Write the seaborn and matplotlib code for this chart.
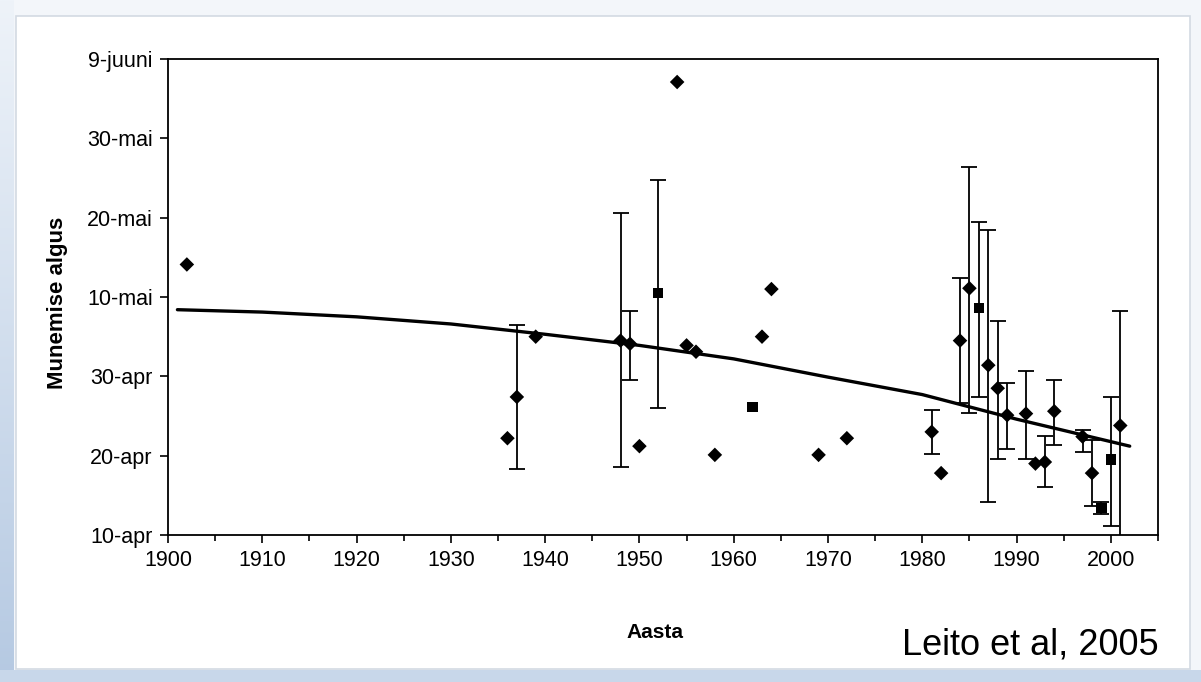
import numpy as np
import pandas as pd
import matplotlib
matplotlib.use('Agg')
import matplotlib.pyplot as plt
from matplotlib.patches import Rectangle
from matplotlib.ticker import MultipleLocator
import seaborn as sns

# Munemise algus (days after 10 April) per year
years = [1902, 1936, 1937, 1939, 1948, 1949, 1950, 1952, 1954, 1955, 1956, 1958,
         1962, 1963, 1964, 1969, 1972, 1981, 1982, 1984, 1985, 1986, 1987, 1988,
         1989, 1991, 1992, 1993, 1994, 1997, 1998, 1999, 2000, 2001]
days = [34.1, 12.2, 17.4, 25.0, 24.5, 24.1, 11.2, 30.5, 57.1, 23.9, 23.1, 10.1,
        16.1, 25.0, 31.0, 10.1, 12.2, 13.0, 7.8, 24.5, 31.1, 28.6, 21.4, 18.5,
        15.1, 15.3, 9.0, 9.2, 15.6, 12.4, 7.8, 3.4, 9.5, 13.8]
shapes = ['romb', 'romb', 'romb', 'romb', 'romb', 'romb', 'romb', 'ruut', 'romb', 'romb', 'romb', 'romb',
          'ruut', 'romb', 'romb', 'romb', 'romb', 'romb', 'romb', 'romb', 'romb', 'ruut', 'romb', 'romb',
          'romb', 'romb', 'romb', 'romb', 'romb', 'romb', 'romb', 'ruut', 'ruut', 'romb']
nan = np.nan
err_low = [nan, nan, 8.3, nan, 8.6, 19.6, nan, 16.0, nan, nan, nan, nan,
           nan, nan, nan, nan, nan, 10.2, nan, 16.6, 15.4, 17.4, 4.1, 9.6,
           10.8, 9.6, nan, 6.1, 11.3, 10.5, 3.6, 2.7, 1.1, -1.0]
err_high = [nan, nan, 26.5, nan, 40.6, 28.2, nan, 44.8, nan, nan, nan, nan,
            nan, nan, nan, nan, nan, 15.7, nan, 32.4, 46.4, 39.5, 38.4, 27.0,
            19.1, 20.7, nan, 12.5, 19.6, 13.2, 12.0, 4.2, 17.4, 28.2]

# trend line
trend_years = [1901, 1910, 1920, 1930, 1940, 1950, 1960, 1970, 1980, 1990, 2002]
trend_days = [28.4, 28.1, 27.5, 26.6, 25.3, 23.9, 22.2, 19.9, 17.7, 14.6, 11.2]

ytick_days = [0, 10, 20, 30, 40, 50, 60]
ytick_labels = ['10-apr', '20-apr', '30-apr', '10-mai', '20-mai', '30-mai', '9-juuni']
xtick_years = list(range(1900, 2001, 10))

df = pd.DataFrame({'aasta': years, 'paev': days, 'kuju': shapes,
                   'alumine': err_low, 'ulemine': err_high})

sns.set_style('ticks')
plt.rcParams['font.family'] = ['Liberation Sans', 'DejaVu Sans']
plt.rcParams['text.color'] = 'black'

W, H = 1201, 682
fig = plt.figure(figsize=(W / 100, H / 100), dpi=100)
fig.patch.set_facecolor('#f3f6fa')

# slide-like background
grad_ax = fig.add_axes([0, 0, 14 / W, 1], zorder=-3)
grad = np.linspace(0, 1, 256).reshape(-1, 1)
grad_ax.imshow(grad, aspect='auto', cmap=matplotlib.colors.LinearSegmentedColormap.from_list(
    'g', ['#b5c9e2', '#eef3f9']), origin='lower', extent=[0, 1, 0, 1])
grad_ax.axis('off')
fig.add_artist(Rectangle((0, 0), 1, 12 / H, transform=fig.transFigure,
                         facecolor='#c8d7ea', edgecolor='none', zorder=-2))
fig.add_artist(Rectangle((16 / W, 13 / H), (1190 - 16) / W, (668 - 15) / H,
                         transform=fig.transFigure, facecolor='white',
                         edgecolor='#d3dae3', linewidth=1.2, zorder=-1))

ax = fig.add_axes([168 / W, 1 - 535 / H, (1158 - 168) / W, (535 - 59) / H], zorder=2)
ax.set_facecolor('none')

# error bars
eb = df.dropna(subset=['alumine'])
ax.errorbar(eb['aasta'], eb['paev'],
            yerr=[eb['paev'] - eb['alumine'], eb['ulemine'] - eb['paev']],
            fmt='none', ecolor='black', elinewidth=1.3, capsize=5.5, capthick=1.3,
            zorder=2)

# trend line
ax.plot(trend_years, trend_days, color='black', linewidth=2.4, zorder=3)

sns.scatterplot(data=df, x='aasta', y='paev', style='kuju',
                markers={'romb': 'D', 'ruut': 's'}, color='black',
                s=55, edgecolor='black', linewidth=0, legend=False, ax=ax, zorder=4)

ax.set_xlim(1900, 2005)
ax.set_ylim(0, 60)
ax.set_xticks(xtick_years)
ax.set_xticklabels([str(y) for y in xtick_years])
ax.xaxis.set_minor_locator(MultipleLocator(5))
ax.set_yticks(ytick_days)
ax.set_yticklabels(ytick_labels)
ax.set_xlabel('')
ax.set_ylabel('')

for sp in ax.spines.values():
    sp.set_visible(True)
    sp.set_color('black')
    sp.set_linewidth(1.3)

ax.tick_params(axis='both', which='major', direction='out', length=6, width=1.2,
               colors='black', labelcolor='black', labelsize=15.5, pad=5)
ax.tick_params(axis='x', which='minor', direction='out', length=4.5, width=1.2,
               colors='black')
ax.tick_params(axis='y', which='minor', left=False)

fig.text(57 / W, 1 - 303 / H, 'Munemise algus', rotation=90, ha='center',
         va='center', fontsize=16, fontweight='bold', color='black')
fig.text(655 / W, 1 - 632 / H, 'Aasta', ha='center', va='center',
         fontsize=15, fontweight='bold', color='black')
fig.text(1030 / W, 1 - 645 / H, 'Leito et al, 2005', ha='center', va='center',
         fontsize=26, color='black')

fig.savefig('out.png', dpi=100)
